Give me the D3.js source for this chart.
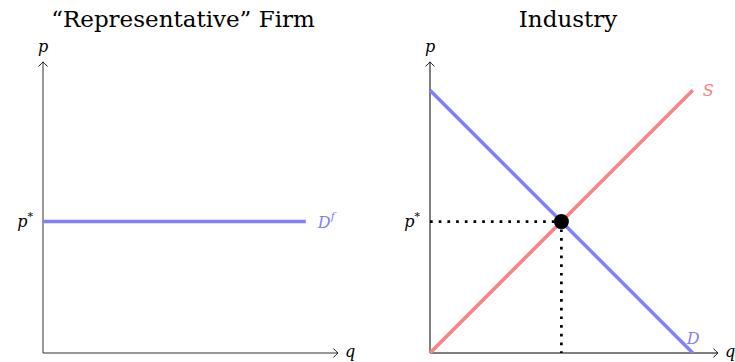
<!DOCTYPE html>
<html>
<head>
<meta charset="utf-8">
<script src="https://cdn.jsdelivr.net/npm/d3@7"></script>
<style>
  body { margin: 0; background: #fff; }
  svg { display: block; }
</style>
</head>
<body>
<svg id="chart" width="735" height="362" font-family="'DejaVu Serif', 'Liberation Serif', serif"></svg>
<script>
// data
const titles = ["\u201CRepresentative\u201D Firm", "Industry"];
const firmDemand = [[0, 4.5], [9, 4.5]];
const industryDemand = [[0, 9], [9, 0]];
const industrySupply = [[0, 0], [9, 9]];
const equilibrium = [4.5, 4.5];

const blue = "#8080ff";
const red = "#ff8080";

const svg = d3.select("#chart");

// arrow head like tikz "->"
svg.append("defs").append("marker")
  .attr("id", "arrow")
  .attr("markerUnits", "userSpaceOnUse")
  .attr("viewBox", "-6 -6 8 12")
  .attr("refX", 0).attr("refY", 0)
  .attr("markerWidth", 8).attr("markerHeight", 12)
  .attr("orient", "auto")
  .append("path")
  .attr("d", "M-4.5,-4.5 Q-1.5,-1.2 0,0 Q-1.5,1.2 -4.5,4.5")
  .attr("fill", "none")
  .attr("stroke", "black")
  .attr("stroke-width", 0.9);

const y = d3.scaleLinear().domain([0, 10]).range([353, 61]);

function panel(x0, xMax, axisColor) {
  const x = d3.scaleLinear().domain([0, 10]).range([x0, x0 + 292]);
  const g = svg.append("g");
  const line = d3.line().x(d => x(d[0])).y(d => y(d[1]));
  g.append("path").datum([[0, 0], [xMax, 0]])
    .attr("d", line).attr("stroke", axisColor).attr("stroke-width", 1)
    .attr("fill", "none").attr("marker-end", "url(#arrow)");
  g.append("path").datum([[0, 0], [0, 9.97]])
    .attr("d", line).attr("stroke", axisColor).attr("stroke-width", 1)
    .attr("fill", "none").attr("marker-end", "url(#arrow)");
  g.append("text").attr("x", x(xMax) + 7).attr("y", y(0) + 4)
    .attr("font-size", 16).attr("font-style", "italic").text("q");
  g.append("text").attr("x", x(0)).attr("y", y(9.97) - 10)
    .attr("text-anchor", "middle")
    .attr("font-size", 16).attr("font-style", "italic").text("p");
  return { g, x, line };
}

function pstar(g, x) {
  const t = g.append("text").attr("x", x(0) - 10).attr("y", y(4.5) + 5)
    .attr("text-anchor", "end").attr("font-size", 16).attr("font-style", "italic");
  t.append("tspan").text("p");
  t.append("tspan").attr("dy", -7).attr("font-size", 11).attr("font-style", "normal").text("*");
}

// left panel
const L = panel(43, 10.1, "#333");
svg.append("text").attr("x", 183).attr("y", 27).attr("text-anchor", "middle")
  .attr("font-size", 23).text(titles[0]);
L.g.append("path").datum(firmDemand).attr("d", L.line)
  .attr("stroke", blue).attr("stroke-width", 3.5).attr("fill", "none");
pstar(L.g, L.x);
const df = L.g.append("text").attr("x", L.x(firmDemand[1][0]) + 12).attr("y", y(4.5) + 6)
  .attr("font-size", 16).attr("font-style", "italic").attr("fill", blue);
df.append("tspan").text("D");
df.append("tspan").attr("dy", -8).attr("font-size", 11).text("f");

// right panel
const R = panel(430, 9.86, "black");
svg.append("text").attr("x", 568).attr("y", 27).attr("text-anchor", "middle")
  .attr("font-size", 23).text(titles[1]);

R.g.append("path").datum([[0, equilibrium[1]], equilibrium, [equilibrium[0], 0]])
  .attr("d", R.line).attr("stroke", "black").attr("stroke-width", 2.7)
  .attr("stroke-dasharray", "2.7,6").attr("fill", "none");
R.g.append("path").datum(industryDemand).attr("d", R.line)
  .attr("stroke", blue).attr("stroke-width", 3.5).attr("fill", "none");
R.g.append("path").datum(industrySupply).attr("d", R.line)
  .attr("stroke", red).attr("stroke-width", 3.5).attr("fill", "none");
R.g.append("circle").attr("cx", R.x(equilibrium[0])).attr("cy", y(equilibrium[1]))
  .attr("r", 7.5).attr("fill", "black");
pstar(R.g, R.x);
R.g.append("text").attr("x", R.x(9) + 10).attr("y", y(9) + 6)
  .attr("font-size", 16).attr("font-style", "italic").attr("fill", red).text("S");
R.g.append("text").attr("x", R.x(9) - 6).attr("y", y(0) - 9)
  .attr("font-size", 16).attr("font-style", "italic").attr("fill", blue).text("D");
</script>
</body>
</html>
